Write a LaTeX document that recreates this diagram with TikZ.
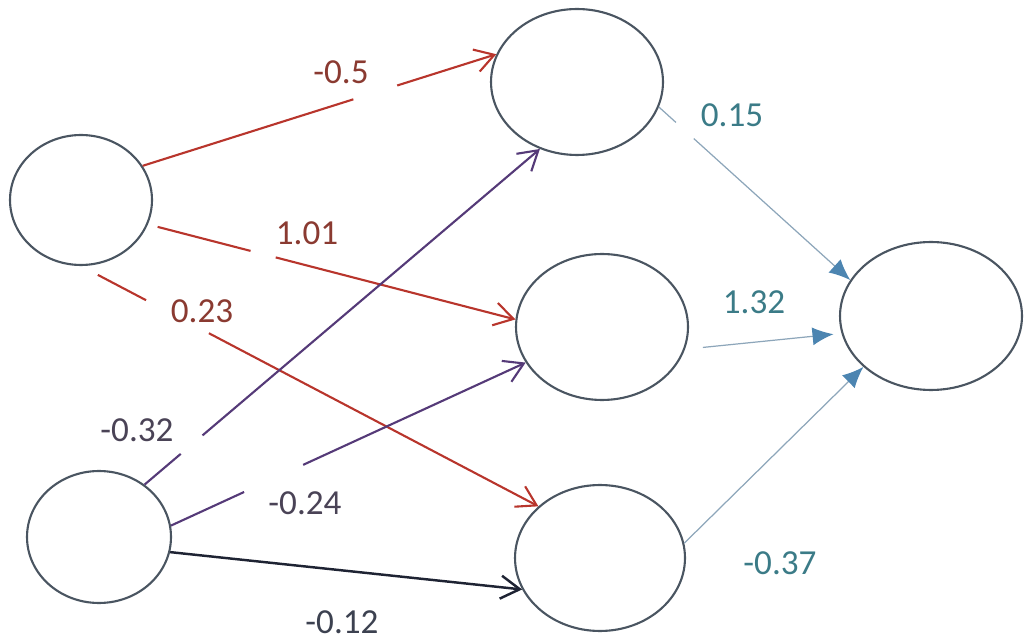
\documentclass[tikz,border=0pt]{standalone}
\usepackage{fontspec}
\setmainfont{Carlito}
\usetikzlibrary{arrows.meta,shapes.geometric}
\definecolor{ringgray}{HTML}{4A5561}
\definecolor{edgered}{HTML}{B8352C}
\definecolor{lblred}{HTML}{8A3A31}
\definecolor{edgepurple}{HTML}{553A78}
\definecolor{lblpurple}{HTML}{4A4356}
\definecolor{edgeink}{HTML}{1E2333}
\definecolor{lblink}{HTML}{3C4150}
\definecolor{edgeblue}{HTML}{8DA6BA}
\definecolor{tipblue}{HTML}{4C85B1}
\definecolor{lblteal}{HTML}{3B7B87}

\begin{document}
\begin{tikzpicture}[
  x=0.02cm, y=-0.02cm,
  unit/.style={ellipse, draw=ringgray, line width=1.2pt, inner sep=0pt},
  barb/.style={-{Straight Barb[length=3.8mm, width=4.6mm]}},
  wred/.style={barb, edgered, line width=1.2pt},
  wpurple/.style={barb, edgepurple, line width=1.2pt},
  wink/.style={barb, edgeink, line width=1.4pt},
  wblue/.style={-{Latex[length=4.2mm, width=3.6mm, color=tipblue]}, edgeblue, line width=0.7pt},
  wlbl/.style={font=\fontsize{20}{24}\selectfont, inner sep=0pt},
  gapat/.style 2 args={dash pattern=on #1 off #2 on 40cm},
]
\useasboundingbox (0,0) rectangle (1027,641);

% ---- input units ----
\node[unit, minimum width=2.84cm, minimum height=2.60cm] (in1) at (81,200) {};
\node[unit, minimum width=2.88cm, minimum height=2.64cm] (in2) at (99,537) {};

% ---- hidden units ----
\node[unit, minimum width=3.44cm, minimum height=2.92cm] (h1) at (577,82) {};
\node[unit, minimum width=3.44cm, minimum height=2.92cm] (h2) at (602,327) {};
\node[unit, minimum width=3.40cm, minimum height=2.92cm] (h3) at (600,558) {};

% ---- output unit ----
\node[unit, minimum width=3.64cm, minimum height=2.96cm] (out) at (931,316) {};

% ---- weights from in1 (broken near the labels) ----
\draw[wred, gapat={4.42cm}{0.92cm}] (in1.29) -- (h1.161);
\draw[wred, gapat={1.92cm}{0.52cm}, shorten <=0.2cm] (in1.340) -- (h2.175);
\draw[wred, gapat={1.09cm}{1.42cm}, shorten <=0.38cm] (in1.south) -- (h3.140);

% ---- weights from in2 ----
\draw[wpurple, gapat={0.95cm}{0.57cm}] (in2.49) -- (h1.241);
\draw[wpurple, gapat={1.61cm}{1.30cm}] (in2.9) -- (h2.205);
\draw[wink] (in2.348) -- (h3.202);

% ---- hidden to output ----
\draw[wblue, gapat={0.46cm}{0.48cm}] (h1.343) -- (out.156);
\draw[wblue, shorten <=0.36cm, shorten >=0.16cm] (h2.345) -- (out.191);
\draw[wblue] (h3.10) -- (out.217);

% ---- weight labels ----
\node[wlbl, lblred] (w11) at (341,72) {-0.5};
\node[wlbl, lblred] (w12) at (307,233) {1.01};
\node[wlbl, lblred] (w13) at (202,311) {0.23};
\node[wlbl, lblpurple] (w21) at (137,430) {-0.32};
\node[wlbl, lblpurple] (w22) at (305,503) {-0.24};
\node[wlbl, lblink] (w23) at (342,622) {-0.12};
\node[wlbl, lblteal] (v1) at (732,115) {0.15};
\node[wlbl, lblteal] (v2) at (754,302) {1.32};
\node[wlbl, lblteal] (v3) at (780,563) {-0.37};

\end{tikzpicture}
\end{document}
